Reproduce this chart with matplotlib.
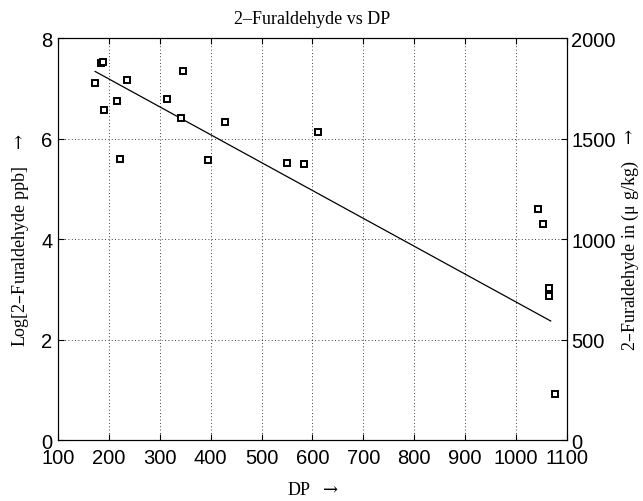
import numpy as np
import matplotlib.pyplot as plt

# DP and log furaldehyde values
dp = [173, 185, 189, 191, 215, 221, 235, 314, 342, 346, 395, 429,
      550, 583, 611, 1044, 1053, 1065, 1065, 1076]
log_fural = [7.10, 7.50, 7.53, 6.58, 6.76, 5.60, 7.16, 6.80, 6.41, 7.34,
             5.57, 6.34, 5.51, 5.49, 6.14, 4.61, 4.31, 3.02, 2.87, 0.92]

# fitted trend line end points
fit_dp = [173, 1068]
fit_log = [7.34, 2.37]

xticks = np.arange(100, 1101, 100)
yticks_left = [0, 2, 4, 6, 8]
yticks_right = [0, 500, 1000, 1500, 2000]

serif = ['Liberation Serif', 'DejaVu Serif']
sans = ['Liberation Sans', 'DejaVu Sans']
plt.rcParams['mathtext.fontset'] = 'dejavuserif'

fig = plt.figure(figsize=(6.43, 5.02), dpi=100)
ax = fig.add_axes([0.0902, 0.1215, 0.7916, 0.8002])

ax.plot(dp, log_fural, 's', ms=5, mfc='white', mec='black', mew=1.4, zorder=3)
ax.plot(fit_dp, fit_log, '-', color='black', lw=0.9, zorder=2)

ax.set_xlim(100, 1100)
ax.set_ylim(0, 8)
ax.set_xticks(xticks)
ax.set_yticks(yticks_left)
ax.grid(True, linestyle=(0, (1, 3)), color='black', lw=0.6)

ax.tick_params(direction='in', length=4, width=0.8, top=True, labelsize=14.5)
ax.tick_params(axis='x', pad=6)
ax.tick_params(axis='y', pad=4)
for lab in ax.get_xticklabels() + ax.get_yticklabels():
    lab.set_family(sans)
for s in ax.spines.values():
    s.set_linewidth(0.8)

ax2 = ax.twinx()
ax2.set_ylim(0, 2000)
ax2.set_yticks(yticks_right)
ax2.tick_params(direction='in', length=4, width=0.8, labelsize=14.5, pad=3)
for lab in ax2.get_yticklabels():
    lab.set_family(sans)
for s in ax2.spines.values():
    s.set_linewidth(0.8)

arrow = r'$\rightarrow$'
ax.set_title('2\u2013Furaldehyde vs DP', family=serif, fontsize=13, pad=11)
ax.set_xlabel('DP  ' + arrow, family=serif, fontsize=13, labelpad=10)
ax.set_ylabel('Log[2\u2013Furaldehyde ppb]   ' + arrow, family=serif, fontsize=13, labelpad=7)
ax2.set_ylabel('2\u2013Furaldehyde in (\u03bc g/kg)   ' + arrow, family=serif, fontsize=13,
               rotation=90)
ax2.yaxis.set_label_coords(1.104, 0.5)

fig.savefig('out.png', dpi=100)
